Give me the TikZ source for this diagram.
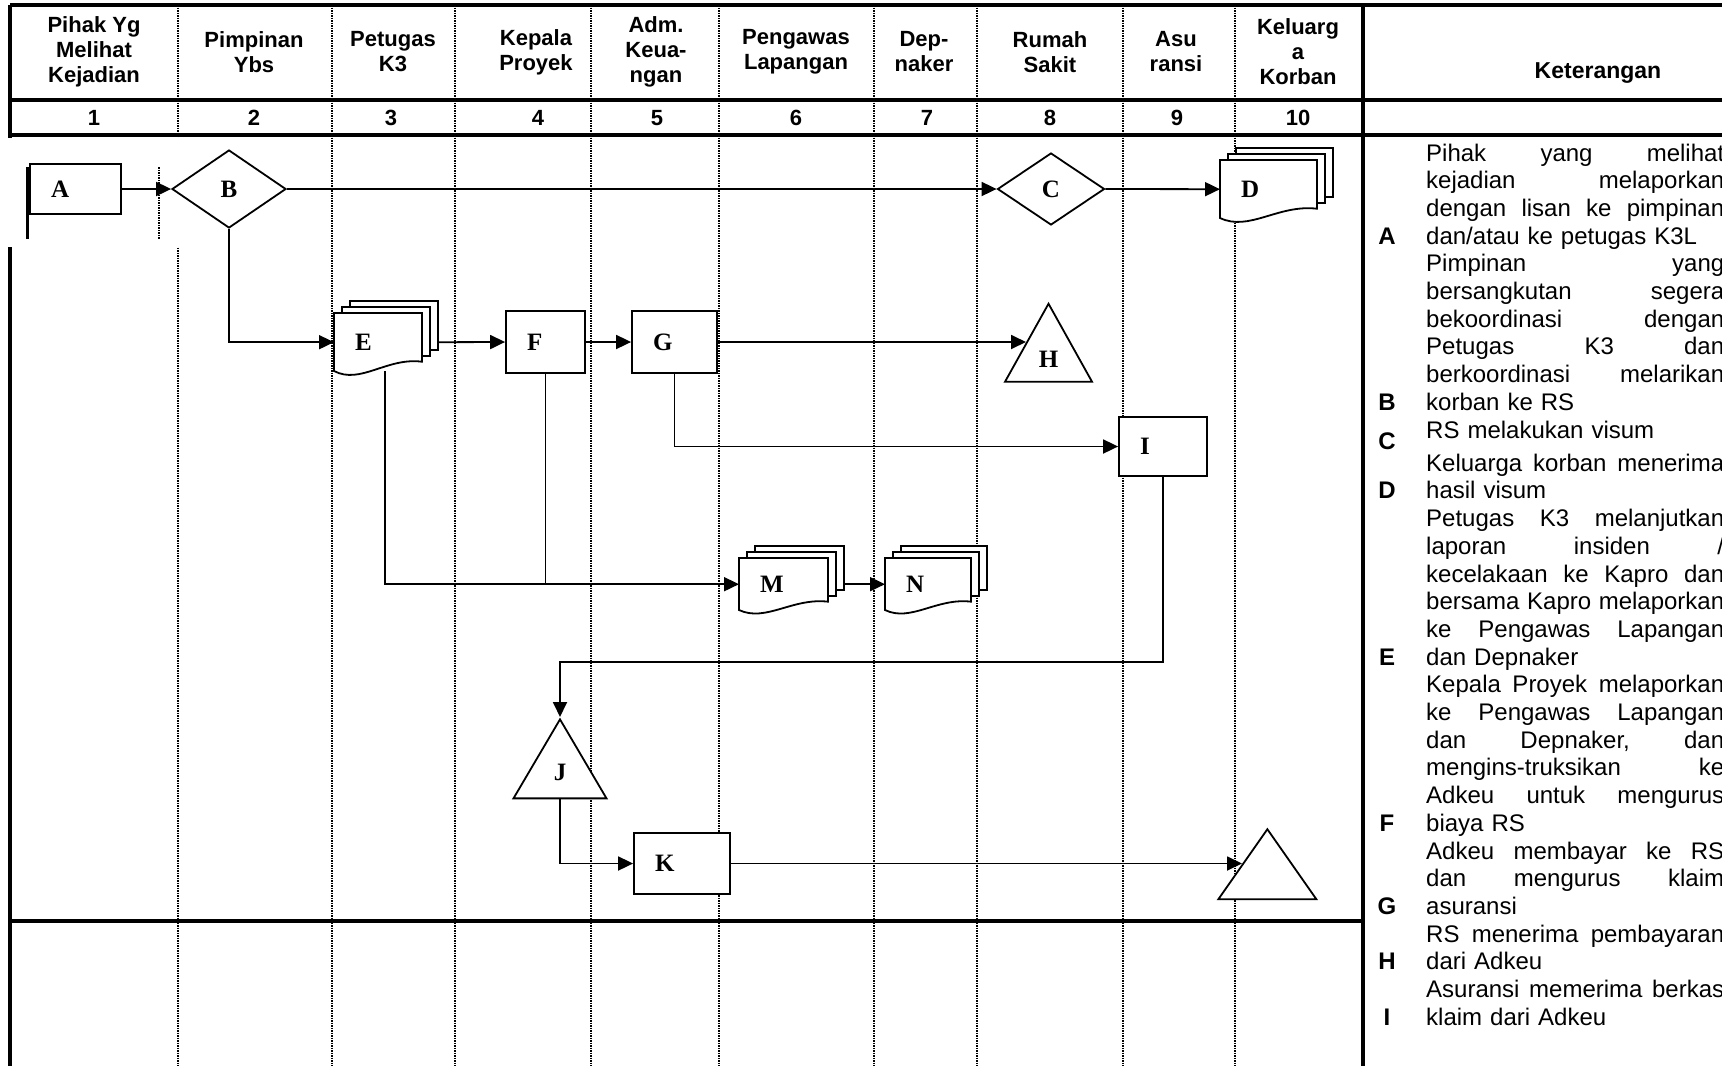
\documentclass[tikz,border=0pt]{standalone}
\usepackage{fontspec}
\setmainfont{Liberation Serif}
\newfontfamily\arialf{Liberation Sans}
\usetikzlibrary{shapes.geometric,arrows.meta}

\newcommand{\lblfont}{\fontsize{25}{30}\selectfont\bfseries}
\newcommand{\headfont}{\arialf\fontsize{22}{25}\selectfont\bfseries}
\newcommand{\ketfont}{\arialf\fontsize{24}{27.7}\selectfont}
% justified line of the Keterangan column
\newcommand{\jl}[1]{\leavevmode\hbox to 298pt{\frenchspacing\spaceskip=0.278em plus 1fil\relax #1}}

% stack of documents: name, left, top, width, height, label
\newcommand{\docstack}[6]{%
  \draw[shp,fill=white] (#2+16,#3-12) rectangle ++(#4,0.84*#5);
  \draw[shp,fill=white] (#2+8,#3-6) rectangle ++(#4,0.84*#5);
  \draw[shp,fill=white] (#2,#3) -- ++(#4,0) -- ++(0,0.84*#5)
    .. controls (#2+0.6*#4,#3+0.76*#5) and (#2+0.3*#4,#3+1.24*#5) .. (#2,#3+#5) -- cycle;
  \pgfmathsetmacro{\docw}{#4-42}
  \node[lbl,anchor=north west,minimum width=#4pt,minimum height=#5pt,text width=\docw pt] (#1) at (#2,#3) {#6};
}

\begin{document}
\begin{tikzpicture}[x=1pt,y=-1pt,
  tabline/.style={line width=3.5pt},
  lane/.style={line width=1.4pt,dash pattern=on 1.5pt off 1pt},
  shp/.style={line width=1.8pt},
  flow/.style={line width=1.8pt,-{Triangle[length=15pt,width=14pt]}},
  conn/.style={line width=1.8pt},
  lbl/.style={font=\lblfont,inner xsep=21pt,inner ysep=0pt,align=left},
  box/.style={lbl,draw,shp,fill=white},
  dia/.style={diamond,draw,shp,fill=white,font=\lblfont,inner sep=0pt},
  tri/.style={isosceles triangle,shape border rotate=90,isosceles triangle stretches,draw,shp,fill=white,font=\lblfont,inner sep=0pt},
  head/.style={font=\headfont,align=center},
  num/.style={font=\headfont},
  ket/.style={font=\ketfont,text width=298pt,align=left,inner sep=0pt},
  ketl/.style={font=\arialf\fontsize{24}{28}\selectfont\bfseries,inner sep=0pt}]
\useasboundingbox (0,0) rectangle (1722,1066);

% Table
\foreach \x in {178,332,455,591,719,874,977,1123,1235} {
    \draw[lane] (\x,5) -- (\x,1066);
}
\draw[tabline] (10,5) -- (1722,5);
\draw[tabline] (10,100) -- (1722,100);
\draw[tabline] (10,135) -- (1722,135);
\draw[tabline] (10,921) -- (1363,921);
\draw[tabline] (10,5) -- (10,1066);
\draw[tabline] (1363,5) -- (1363,1066);

% Column heads
\foreach \x/\t [count=\i] in {94/{Pihak Yg\\Melihat\\Kejadian}, 254/{Pimpinan\\Ybs}, 393/{Petugas\\K3}, 536/{Kepala\\Proyek}, 656/{Adm.\\Keua-\\ngan}, 796/{Pengawas\\Lapangan}, 924/{Dep-\\naker}, 1050/{Rumah\\Sakit}, 1176/{Asu\\ransi}, 1298/{Keluarg\\a\\Korban}} {
    \node[head] (h\i) at (\x,52) {\t};
}
\node[font=\arialf\fontsize{23}{26}\selectfont\bfseries] (hk) at (1598,73) {Keterangan};
\foreach \x/\n in {94/1,254/2,391/3,538/4,657/5,796/6,927/7,1050/8,1177/9,1298/10} {
    \node[num] (n\n) at (\x,118) {\n};
}

% Pasted block behind A
\fill[white] (8,137.5) rectangle (181,247);
\draw[line width=3pt] (27,167) -- (27,239);
\draw[lane] (159,167) -- (159,239);

% Flow shapes
\node[box,minimum width=91pt,minimum height=50pt,text width=49pt] (A) at (75.5,189) {A};
\node[dia,minimum width=114pt,minimum height=78pt] (B) at (229,189) {B};
\node[dia,minimum width=107pt,minimum height=72pt] (C) at (1051,189) {C};
\docstack{D}{1220}{160}{97}{58}{D}
\docstack{E}{334}{313}{88}{58}{E}
\node[box,minimum width=79pt,minimum height=62pt,text width=37pt] (F) at (545.5,342) {F};
\node[box,minimum width=85pt,minimum height=62pt,text width=43pt] (G) at (674.5,342) {G};
\node[tri,minimum width=87pt,minimum height=78pt,anchor=left side] (H) at (1026,342) {H};
\node[box,minimum width=88pt,minimum height=59pt,text width=46pt] (I) at (1163,446.5) {I};
\docstack{M}{739}{558}{89}{52}{M}
\docstack{N}{885}{558}{86}{52}{N}
\node[tri,minimum width=93pt,minimum height=79pt,anchor=apex] (J) at (560,717) {J};
\node[box,minimum width=96pt,minimum height=61pt,text width=54pt] (K) at (682,863.5) {K};
\node[tri,minimum width=98pt,minimum height=70pt,anchor=left side] (T) at (1242,863.5) {};

% Connectors
\draw[flow] (A.east) -- (B.west);
\draw[flow] (B.east) -- (C.west);
\draw[flow] (C.east) -- (D.west);
\draw[flow] (B.south) |- (E.west);
\draw[flow] ([xshift=16pt]E.east) -- (F.west);
\draw[flow] (F.east) -- (G.west);
\draw[flow] (G.east) -- (H.left side);
\draw[flow] (G.south) |- (I.west);
\draw[flow] ([xshift=7pt]E.south) |- (M.west);
\draw[conn] (F.south) -- (F.south |- M.west);
\draw[flow] ([xshift=16pt]M.east) -- (N.west);
\draw[flow] (I.south) -- ++(0,185) -| (J.apex);
\draw[flow] (J.lower side) |- (K.west);
\draw[flow] (K.east) -- (T.left side);

% Keterangan
\node[ket,anchor=base west] (tA) at (1426,161) {\jl{Pihak yang melihat}\\\jl{kejadian melaporkan}\\\jl{dengan lisan ke pimpinan}\\dan/atau ke petugas K3L};
\node[ketl,anchor=base] (kA) at (1387,244.1) {A};
\node[ket,anchor=base west] (tB) at (1426,271.8) {\jl{Pimpinan yang}\\\jl{bersangkutan segera}\\\jl{bekoordinasi dengan}\\\jl{Petugas K3 dan}\\\jl{berkoordinasi melarikan}\\korban ke RS};
\node[ketl,anchor=base] (kB) at (1387,410.3) {B};
\node[ket,anchor=base west] (tC) at (1426,438) {RS melakukan visum};
\node[ketl,anchor=base] (kC) at (1387,449.1) {C};
\node[ket,anchor=base west] (tD) at (1426,471.2) {\jl{Keluarga korban menerima}\\hasil visum};
\node[ketl,anchor=base] (kD) at (1387,498.9) {D};
\node[ket,anchor=base west] (tE) at (1426,526.6) {\jl{Petugas K3 melanjutkan}\\\jl{laporan insiden /}\\\jl{kecelakaan ke Kapro dan}\\\jl{bersama Kapro melaporkan}\\\jl{ke Pengawas Lapangan}\\dan Depnaker};
\node[ketl,anchor=base] (kE) at (1387,665.1) {E};
\node[ket,anchor=base west] (tF) at (1426,692.8) {\jl{Kepala Proyek melaporkan}\\\jl{ke Pengawas Lapangan}\\\jl{dan Depnaker, dan}\\\jl{mengins-truksikan ke}\\\jl{Adkeu untuk mengurus}\\biaya RS};
\node[ketl,anchor=base] (kF) at (1387,831.3) {F};
\node[ket,anchor=base west] (tG) at (1426,859) {\jl{Adkeu membayar ke RS}\\\jl{dan mengurus klaim}\\asuransi};
\node[ketl,anchor=base] (kG) at (1387,914.4) {G};
\node[ket,anchor=base west] (tH) at (1426,942.1) {\jl{RS menerima pembayaran}\\dari Adkeu};
\node[ketl,anchor=base] (kH) at (1387,969.8) {H};
\node[ket,anchor=base west] (tI) at (1426,997.5) {\jl{Asuransi memerima berkas}\\klaim dari Adkeu};
\node[ketl,anchor=base] (kI) at (1387,1025.2) {I};
\end{tikzpicture}
\end{document}
